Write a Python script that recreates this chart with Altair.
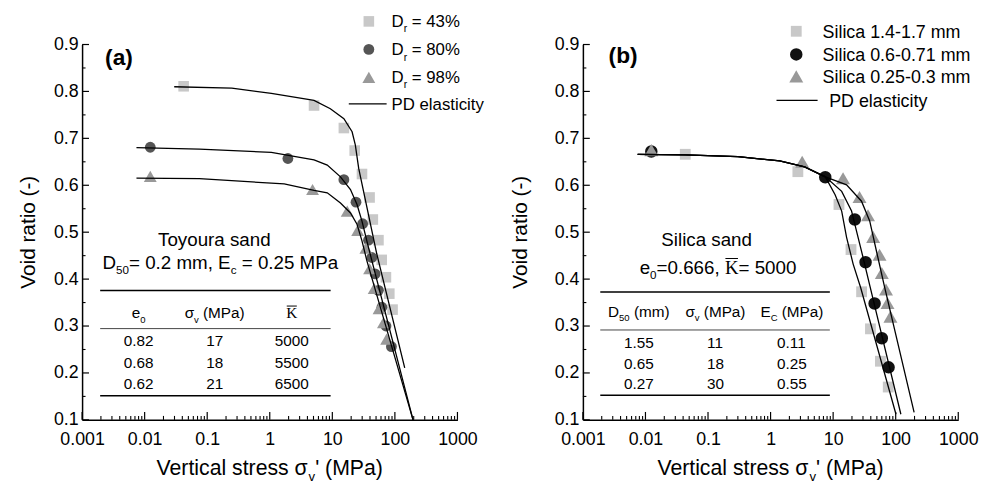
import altair as alt
import pandas as pd

# ---------------- data: panel (a) Toyoura sand ----------------
a_sq_x = [0.042, 5.1, 15.3, 22.8, 29.8, 39.4, 44.4, 54.6, 61.5, 71.9, 81.4, 91.8]
a_sq_y = [0.811, 0.770, 0.722, 0.674, 0.624, 0.574, 0.527, 0.483, 0.441, 0.404, 0.369, 0.335]
a_ci_x = [0.0123, 1.95, 15.3, 23.9, 30.5, 37.9, 42.8, 48.3, 54.6, 62.0, 72.0, 88.0]
a_ci_y = [0.681, 0.657, 0.612, 0.564, 0.518, 0.483, 0.446, 0.411, 0.376, 0.340, 0.300, 0.256]
a_tr_x = [0.0123, 4.83, 17.3, 25.4, 34.4, 39.4, 46.6, 55.8, 65.5, 73.8]
a_tr_y = [0.619, 0.591, 0.545, 0.504, 0.466, 0.422, 0.380, 0.337, 0.307, 0.272]

a_l1_x = [0.0297, 0.247, 1.06, 5.1, 9.3, 15.3, 20.7, 23.3, 26.4, 51.3, 143.6]
a_l1_y = [0.810, 0.807, 0.796, 0.781, 0.763, 0.742, 0.714, 0.686, 0.636, 0.454, 0.211]
a_l2_x = [0.0074, 0.075, 1.06, 5.1, 8.3, 13.5, 19.5, 24.8, 29.7, 37.9, 195]
a_l2_y = [0.680, 0.677, 0.670, 0.654, 0.643, 0.618, 0.591, 0.559, 0.524, 0.467, 0.100]
a_l3_x = [0.0074, 0.075, 1.7, 5.1, 8.3, 13.5, 19.5, 24.8, 29.7, 35.7, 195]
a_l3_y = [0.615, 0.614, 0.603, 0.589, 0.584, 0.562, 0.541, 0.517, 0.482, 0.439, 0.100]

a_legend = ["43%", "80%", "98%"]
a_table_rows = [["0.82", "17", "5000"], ["0.68", "18", "5500"], ["0.62", "21", "6500"]]

# ---------------- data: panel (b) Silica sand ----------------
b_sq_x = [0.0433, 2.73, 12.4, 19.3, 28.5, 39.5, 57.0, 76.0]
b_sq_y = [0.666, 0.629, 0.559, 0.463, 0.373, 0.294, 0.225, 0.170]
b_ci_x = [0.0124, 7.48, 22.2, 33.0, 46.0, 60.0, 77.0]
b_ci_y = [0.672, 0.617, 0.527, 0.436, 0.348, 0.274, 0.212]
b_tr_x = [0.0124, 3.2, 14.4, 26.4, 36.1, 43.6, 55.2, 60.0, 70.0, 74.0, 82.4]
b_tr_y = [0.675, 0.650, 0.615, 0.575, 0.536, 0.490, 0.452, 0.413, 0.378, 0.349, 0.320]

b_common_x = [0.0075, 0.0433, 0.3, 1.4, 3.5, 7.5]
b_common_y = [0.666, 0.665, 0.661, 0.652, 0.639, 0.618]
b_l1_x = [10.75, 13.7, 16.4, 20.9, 27.5, 101]
b_l1_y = [0.580, 0.545, 0.489, 0.432, 0.382, 0.112]
b_l2_x = [13.7, 19.7, 23.6, 30.1, 38.4, 121]
b_l2_y = [0.587, 0.545, 0.503, 0.446, 0.387, 0.112]
b_l3_x = [16.4, 28.4, 38.4, 49.0, 66.2, 197]
b_l3_y = [0.601, 0.566, 0.524, 0.461, 0.384, 0.116]

b_legend = ["Silica 1.4-1.7 mm", "Silica 0.6-0.71 mm", "Silica 0.25-0.3 mm"]
b_table_rows = [["1.55", "11", "0.11"], ["0.65", "18", "0.25"], ["0.27", "30", "0.55"]]

# ---------------- axes ----------------
x_major = [0.001, 0.01, 0.1, 1, 10, 100, 1000]
x_minor = [m * d for d in [0.001, 0.01, 0.1, 1, 10, 100] for m in range(2, 10)]
y_major = [0.1, 0.2, 0.3, 0.4, 0.5, 0.6, 0.7, 0.8, 0.9]
y_minor = [0.15, 0.25, 0.35, 0.45, 0.55, 0.65, 0.75, 0.85]

FONT = "Liberation Sans"
SERIF = "Liberation Serif"
W_PLOT = 380
H_PLOT = 380

LIGHT = "#c8c8c8"
MID = "#999999"
DARK = "#555555"
BLACK = "#111111"

xscale = alt.Scale(type="log", domain=[0.001, 1000], nice=False)
yscale = alt.Scale(domain=[0.1, 0.9], nice=False, zero=False)
xaxis = alt.Axis(values=x_major, format="~g", labelFlush=False, ticks=False, tickSize=0,
                 grid=False, domainColor="black", domainWidth=1.5, labelFont=FONT,
                 labelFontSize=18, labelColor="black", labelPadding=11, title=None,
                 labelOverlap=False)
yaxis = alt.Axis(values=y_major, format=".1f", ticks=False, tickSize=0, grid=False,
                 domainColor="black", domainWidth=1.5, labelFont=FONT, labelFontSize=18,
                 labelColor="black", labelPadding=4, title=None, labelOverlap=False)
X = alt.X("x:Q", scale=xscale, axis=xaxis)
Y = alt.Y("y:Q", scale=yscale, axis=yaxis)

# Arial / Liberation Sans advance widths (per 1000 em)
WS = {" ": 278, ".": 278, ",": 278, "=": 584, "-": 333, "%": 889, "(": 333,
      ")": 333, "'": 191, "C": 722, "D": 722, "E": 667, "K": 667, "M": 833, "P": 667,
      "S": 667, "T": 611, "V": 667, "a": 556, "c": 500, "d": 556, "e": 556, "i": 222,
      "l": 222, "m": 833, "n": 556, "o": 556, "r": 333, "s": 500, "t": 278, "u": 556,
      "v": 500, "y": 500, "\u03c3": 600}
for ch in "0123456789":
    WS[ch] = 556
WSERIF = {"K": 722}


def tw(s, size, serif=False):
    tab = WSERIF if serif else WS
    return sum(tab.get(c, 556) for c in s) / 1000.0 * size


def one():
    return pd.DataFrame({"a": [0]})


def txt(t, x, y, size, font=FONT, align="left", baseline="alphabetic", weight="normal", angle=0):
    return alt.Chart(pd.DataFrame({"t": [t]})).mark_text(
        align=align, baseline=baseline, font=font, fontSize=size, color="black",
        fontWeight=weight, angle=angle
    ).encode(x=alt.value(x), y=alt.value(y), text="t:N")


def hline(x1, x2, y, width=1.0, color="black"):
    return alt.Chart(one()).mark_rule(color=color, strokeWidth=width).encode(
        x=alt.value(x1), x2=alt.value(x2), y=alt.value(y))


SUB = 0.62


def rich(pieces, x, y, size, align="center"):
    widths = []
    for t, k in pieces:
        if k == "s":
            widths.append(tw(t, size * SUB))
        elif k == "k":
            widths.append(tw(t, size, serif=True))
        else:
            widths.append(tw(t, size))
    total = sum(widths)
    cx = x - total / 2.0 if align == "center" else x
    base = y + 0.36 * size
    out = []
    for (t, k), w in zip(pieces, widths):
        fs = size * SUB if k == "s" else size
        lead = len(t) - len(t.lstrip(" "))
        shown = t.strip(" ")
        sx = cx + lead * 0.278 * fs
        if k == "s":
            out.append(txt(shown, sx, base + 0.3 * size, fs))
        elif k == "k":
            out.append(txt(shown, sx, base, size, font=SERIF))
            out.append(hline(sx + 0.5, sx + w - 0.5, base - 0.8 * size, 1.0))
        else:
            out.append(txt(shown, sx, base, size))
        cx += w
    return out


def pts(xs, ys, shape, color, size):
    return alt.Chart(pd.DataFrame({"x": xs, "y": ys})).mark_point(
        shape=shape, filled=True, color=color, size=size, opacity=1
    ).encode(x=X, y=Y)


def lines(curves):
    rows = []
    for i, (xs, ys) in enumerate(curves):
        for xv, yv in zip(xs, ys):
            rows.append({"x": xv, "y": yv, "c": i})
    return alt.Chart(pd.DataFrame(rows)).mark_line(color="black", strokeWidth=1.3).encode(
        x=X, y=Y, detail="c:N")


def ticks():
    out = []
    out.append(alt.Chart(pd.DataFrame({"x": x_major})).mark_rule(color="black", strokeWidth=1.2)
               .encode(x=X, y=alt.value(H_PLOT), y2=alt.value(H_PLOT - 8)))
    out.append(alt.Chart(pd.DataFrame({"x": x_minor})).mark_rule(color="black", strokeWidth=1.1)
               .encode(x=X, y=alt.value(H_PLOT), y2=alt.value(H_PLOT - 4)))
    out.append(alt.Chart(pd.DataFrame({"y": y_major})).mark_rule(color="black", strokeWidth=1.2)
               .encode(y=Y, x=alt.value(0), x2=alt.value(7)))
    out.append(alt.Chart(pd.DataFrame({"y": y_minor})).mark_rule(color="black", strokeWidth=1.1)
               .encode(y=Y, x=alt.value(0), x2=alt.value(3.5)))
    return out


def axis_titles(ytx):
    out = [txt("Void ratio (-)", ytx, H_PLOT / 2, 21, align="center", baseline="middle", angle=270)]
    out += rich([("Vertical stress \u03c3", "n"), ("v", "s"), ("' (MPa)", "n")], W_PLOT / 2, 428, 21.5)
    return out


def legend_symbol(shape, color, size, x, y):
    return alt.Chart(one()).mark_point(shape=shape, filled=True, color=color, size=size,
                                       opacity=1).encode(x=alt.value(x), y=alt.value(y))


# ---------------- panel (a) ----------------
la = [pts(a_sq_x, a_sq_y, "square", LIGHT, 115),
      pts(a_ci_x, a_ci_y, "circle", DARK, 120),
      pts(a_tr_x, a_tr_y, "triangle-up", MID, 170),
      lines([(a_l1_x, a_l1_y), (a_l2_x, a_l2_y), (a_l3_x, a_l3_y)])]
la += ticks()
la += axis_titles(-53.4)
la.append(txt("(a)", 23.3, 13.3, 23, align="left", baseline="middle", weight="bold"))
leg_rows_a = [-23.4, 5.0, 33.3]
leg_sym_a = [("square", LIGHT, 115), ("circle", DARK, 120), ("triangle-up", MID, 170)]
for lab, (shp, col, sz), ry in zip(a_legend, leg_sym_a, leg_rows_a):
    la.append(legend_symbol(shp, col, sz, 290.3, ry))
    la += rich([("D", "n"), ("r", "s"), (" = " + lab, "n")], 313.3, ry, 17, align="left")
la.append(hline(270, 308.3, 60, 1.3))
la += rich([("PD elasticity", "n")], 313.3, 60, 17, align="left")
la += rich([("Toyoura sand", "n")], 135, 197.3, 19)
la += rich([("D", "n"), ("50", "s"), ("= 0.2 mm, E", "n"), ("c", "s"), (" = 0.25 MPa", "n")], 140, 220, 19)
la.append(hline(18.3, 251.6, 249, 1.6))
la.append(hline(18.3, 251.6, 287.6, 1.0, "#444444"))
la.append(hline(18.3, 251.6, 355.6, 1.6))
cols_a = [57.3, 134.3, 212.3]
la += rich([("e", "n"), ("0", "s")], cols_a[0], 271.6, 15.5)
la += rich([("\u03c3", "n"), ("v", "s"), (" (MPa)", "n")], cols_a[1], 271.6, 15.5)
la += rich([("K", "k")], cols_a[2], 271.6, 15.5)
for row, ry in zip(a_table_rows, [300, 321.6, 343.3]):
    for val, cx in zip(row, cols_a):
        la += rich([(val, "n")], cx, ry, 15.5)
panel_a = alt.layer(*la).properties(width=W_PLOT, height=H_PLOT)

# ---------------- panel (b) ----------------
lb = [pts(b_sq_x, b_sq_y, "square", LIGHT, 120),
      pts(b_ci_x, b_ci_y, "circle", BLACK, 160),
      pts(b_tr_x, b_tr_y, "triangle-up", MID, 200),
      lines([(b_common_x + b_l1_x, b_common_y + b_l1_y),
             (b_common_x + b_l2_x, b_common_y + b_l2_y),
             (b_common_x + b_l3_x, b_common_y + b_l3_y)])]
lb += ticks()
lb += axis_titles(-62.4)
lb.append(txt("(b)", 26, 11.6, 23, align="left", baseline="middle", weight="bold"))
leg_rows_b = [-13.4, 10.0, 32.3]
leg_sym_b = [("square", LIGHT, 120), ("circle", BLACK, 160), ("triangle-up", MID, 200)]
for lab, (shp, col, sz), ry in zip(b_legend, leg_sym_b, leg_rows_b):
    lb.append(legend_symbol(shp, col, sz, 216, ry))
    lb += rich([(lab, "n")], 242.6, ry, 18.1, align="left")
lb.append(hline(196, 237.6, 56.6, 1.3))
lb += rich([("PD elasticity", "n")], 249.3, 56.6, 18.1, align="left")
lb += rich([("Silica sand", "n")], 125.3, 197.3, 19)
lb += rich([("e", "n"), ("0", "s"), ("=0.666, ", "n"), ("K", "k"), ("= 5000", "n")], 136.8, 225, 19)
lb.append(hline(17.6, 250, 250.6, 1.6))
lb.append(hline(17.6, 250, 289, 1.0, "#444444"))
lb.append(hline(17.6, 250, 355, 1.6))
cols_b = [56.6, 134.3, 211.6]
lb += rich([("D", "n"), ("50", "s"), (" (mm)", "n")], cols_b[0], 270, 15.5)
lb += rich([("\u03c3", "n"), ("v", "s"), (" (MPa)", "n")], cols_b[1], 270, 15.5)
lb += rich([("E", "n"), ("C", "s"), (" (MPa)", "n")], cols_b[2], 270, 15.5)
for row, ry in zip(b_table_rows, [301.6, 323.3, 343.3]):
    for val, cx in zip(row, cols_b):
        lb += rich([(val, "n")], cx, ry, 15.5)
panel_b = alt.layer(*lb).properties(width=W_PLOT, height=H_PLOT)

chart = alt.hconcat(panel_a, panel_b, spacing=127, bounds="flush").properties(
    padding={"left": 10, "top": 2, "right": 0, "bottom": 0}
).configure_view(stroke=None)

chart.save("out.html", embed_options={"renderer": "svg", "actions": False})
